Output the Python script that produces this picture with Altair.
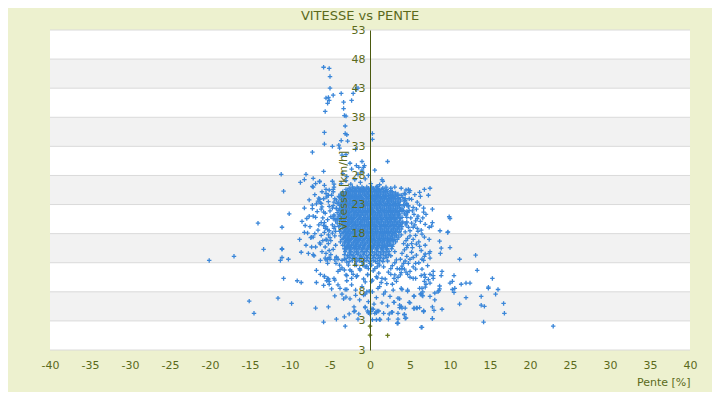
import altair as alt
import pandas as pd

TITLE = "VITESSE vs PENTE"
X_TITLE = "Pente [%]"
Y_TITLE = "Vitesse [km/h]"

x_ticks = list(range(-40, 41, 5))
y_ticks = [-2, 3, 8, 13, 18, 23, 28, 33, 38, 43, 48, 53]
y_tick_labels = ["3", "3", "8", "13", "18", "23", "28", "33", "38", "43", "48", "53"]
band_low = [3, 13, 23, 33, 43]
band_high = [8, 18, 28, 38, 48]

# upper tail and top of the cloud (pente %, vitesse km/h)
tail = [(-5.8,46.6),(-5.1,46.4),(-5.0,45.0),(-5.0,43.0),(-4.6,41.8),(-5.5,41.3),(-5.2,41.4),(-5.1,40.9),
        (-5.3,40.4),(-5.6,39.0),(-3.6,42.1),(-3.3,40.6),(-3.3,39.5),(-2.3,40.9),(-2.1,42.1),(-1.8,42.8),
        (-1.5,43.0),(-3.2,38.3),(-3.0,38.2),(-3.1,36.5),(-3.1,35.2),(-2.9,35.0),(-5.7,35.4),(-5.7,33.4),
        (-4.7,33.0),(-3.6,34.0),(-2.8,33.9),(-3.8,32.7),(-1.8,32.5),(-3.0,31.6),(-7.2,32.0),(0.3,35.2),
        (0.3,34.2),(2.2,30.4),(-5.8,28.7),(-3.9,33.2),(-3.5,31.5),(-2.5,30.1),(-1.7,29.7),(-1.0,30.4),
        (-0.7,29.7),(-0.8,29.4),(-1.4,29.4),(-2.3,29.1),(-1.0,28.9),
        (-3.6,26.6),(-3.0,27.1),(-2.4,26.5),(-1.9,27.3),(-1.2,26.8),(-0.6,27.4),(0.1,26.6),(0.9,26.1),
        (1.5,27.3),(1.6,27.0),(-2.9,27.8),(-1.5,28.2),(-0.2,28.0),(-3.4,28.3),(1.2,26.4),(2.0,26.0),
        (2.6,25.8),(3.1,26.0),(-1.0,28.6),(0.6,28.9),(4.8,25.6),(4.9,25.1),(6.2,25.1),(6.8,25.6),
        (7.3,24.6),(-4.5,26.5),(-4.6,25.6),(-5.1,25.5)]

left = [(-11.1,28.2),(-8.0,28.2),(-10.8,25.3),(-10.1,21.4),(-14.0,19.8),(-11.0,19.1),(-13.3,15.3),
        (-17.0,14.1),(-20.1,13.4),(-11.0,15.3),(-11.0,13.9),(-11.2,13.4),(-10.2,13.6),(-10.8,10.3),
        (-8.6,9.6),(-15.1,6.4),(-11.5,6.9),(-9.8,6.0),(-14.5,4.3),(-6.8,5.2),(-5.8,2.8),
        (-8.2,27.3),(-7.1,27.5),(-7.2,26.1),(-6.8,26.6),(-6.3,27.0),(-5.7,26.3),(-5.5,24.9),(-8.2,22.4),
        (-7.6,21.0),(-7.1,21.0),(-6.8,20.8),(-8.5,20.1),(-8.1,19.4),(-8.2,18.2),(-7.8,18.1),(-7.3,17.4),
        (-7.1,17.4),(-8.8,17.0),(-6.2,16.2),(-8.6,14.8),(-7.7,14.6),(-7.1,14.4),(-6.2,13.4),(-6.7,11.7),
        (-6.2,11.0),(-5.7,10.7),(-6.7,9.6),(-5.8,9.1),(-5.2,5.4),
        (-5.8,24.0),(-6.3,23.9),(-6.5,23.6),(-6.1,23.2),(-6.7,23.1),(-7.2,22.9),(-7.2,22.3),(-6.0,22.6),
        (-6.1,22.2),(-5.8,21.7),(-5.6,21.5),(-6.1,19.9),(-5.7,19.9),(-5.8,19.4),(-5.5,19.2),(-5.3,18.7),
        (-6.1,17.7),(-5.5,17.0),(-5.2,16.3),(-5.6,13.8),(-5.3,13.6),(-5.1,13.9),(-5.3,12.9),(-5.1,15.1),
        (-5.5,14.6),(-5.3,10.3),(-5.1,9.8),(-6.4,24.1),(-6.2,23.3),(-7.1,26.0),(-6.3,26.9),(-5.5,25.6),
        (-7.4,17.3),(-6.3,16.4),(-5.4,16.9),(-5.2,17.8),(-5.6,18.9),(-4.7,18.1),(-4.6,20.6),(-11.0,15.4),
        (-7.0,14.2),(-5.5,13.5),(-5.0,13.6),(-4.4,13.5),(-4.0,13.6),(-3.5,13.4),(-3.2,13.6),(-4.25,12.9),
        (-5.7,10.6),(-5.2,10.2),(-5.4,9.9),(-4.4,10.0),(-4.0,11.5),(-3.75,11.8),(-5.1,9.3),(-4.8,8.5),
        (-3.75,8.6),(-4.4,7.3),(-3.5,7.6),(-2.9,8.4),(-3.0,7.1),(-3.3,6.8),(-2.5,6.8),(-2.3,10.3),
        (-1.7,10.6),(-2.9,9.9),(-4.2,3.3),(-3.2,3.7),(-2.6,4.2),(-1.9,4.7),(-3.1,2.1),(-2.3,11.5),
        (-1.7,12.6),(-1.25,11.75),(-2.3,9.2),(-1.8,8.3),(-2.7,12.6),(-3.2,11.75),(-2.9,10.8),(-2.1,11.0),
        (-0.6,12.3),(-1.1,14.0),(-9.1,9.9),(-8.7,26.8),(-2.0,4.6),(-1.5,3.3),(-4.2,13.9),(-4.5,10.3),
        (-4.0,9.2),(-3.1,8.4),(-3.0,10.9),(-2.5,11.75),
        (-4.5,26.0),(-4.8,24.6),(-5.2,23.5),(-4.6,22.8),(-5.0,21.9),(-4.5,21.0),(-5.3,20.4),(-4.7,19.5),
        (-5.1,18.5),(-4.4,17.6),(-4.9,16.8),(-4.3,16.0),(-4.6,15.3),(-4.9,14.4),(-4.2,14.0),(-4.4,24.0),
        (-4.6,25.2),(-4.3,20.2),(-4.5,18.9),(-4.2,22.3),
        (-6.0,25.2),(-5.4,24.3),(-6.6,21.8),(-5.9,20.7),(-6.4,19.5),(-5.1,22.7),(-5.7,18.2),(-6.5,18.6),
        (-5.9,16.8),(-6.8,15.7),(-5.6,15.7),(-6.0,14.9),(-5.0,17.3),(-4.9,20.9),(-5.2,24.6),(-4.7,27.0),
        (-6.9,24.7),(-7.6,23.8),(-7.9,20.6),(-7.5,19.2),(-6.9,18.0),(-8.0,16.0),(-7.3,15.7)]

right = [(7.5,25.8),(10.0,20.6),(9.7,18.2),(10.0,15.6),(11.2,13.6),(13.2,14.3),(13.4,11.7),(15.3,10.3),
         (14.8,8.8),(14.8,8.6),(16.0,8.4),(15.7,7.6),(16.7,6.0),(16.8,4.3),(14.2,2.8),(22.9,2.1),
         (13.9,7.2),(14.3,5.5),(13.9,5.7),(12.0,7.0),(11.2,5.9),(11.4,9.3),(12.0,9.5),(12.5,9.5),
         (10.5,10.8),(10.3,9.8),(10.0,9.5),(10.6,8.6),(10.3,8.4),(10.5,7.9),(8.7,9.0),(8.7,8.5),(8.6,8.2),
         (8.5,8.0),(9.0,5.0),(7.8,3.4),(6.4,1.9),(3.5,2.6),(8.0,4.8),(6.7,4.6),
         (5.0,25.4),(4.3,24.9),(4.4,24.8),(6.3,24.4),(5.2,23.9),(4.4,23.7),(5.4,22.5),(5.8,22.2),(6.7,22.4),
         (6.7,21.7),(7.8,22.2),(5.9,20.6),(7.8,19.9),(7.7,19.3),(7.4,19.1),(5.2,19.8),(5.4,19.1),(5.9,18.9),
         (6.4,18.6),(6.0,18.4),(6.8,17.4),(7.4,17.0),(8.7,16.7),(8.9,15.5),(8.8,14.6),(7.5,14.9),(7.4,14.6),
         (7.5,13.8),(6.9,14.5),(6.8,14.1),(6.7,13.4),(6.2,15.8),(6.4,15.1),(5.7,17.7),(5.4,17.0),(5.2,16.3),
         (6.5,13.6),(5.7,12.9),(5.0,13.6),(4.8,12.9),(4.2,12.9),(3.7,11.9),(4.3,11.9),(5.7,11.9),(6.5,11.9),
         (5.0,11.5),(7.9,11.5),(9.0,11.5),(8.9,10.8),(7.9,10.8),(7.5,11.0),(6.8,11.0),(6.4,10.8),(6.9,10.5),
         (5.4,10.3),(5.7,10.3),(5.0,10.5),(3.5,10.5),(3.0,10.3),(3.3,9.8),(2.8,9.3),
         (3.9,8.6),(4.0,8.4),(4.7,8.3),(6.2,8.6),(6.5,8.6),(6.9,8.8),(6.8,9.8),(7.3,10.1),(7.9,10.3),
         (7.5,9.5),(7.0,9.3),(6.4,7.7),(6.5,7.4),(5.5,7.2),(4.9,6.2),(3.9,5.5),(4.0,5.2),(4.4,5.2),(6.2,5.3),
         (5.8,5.2),(5.5,5.2),(6.7,4.65),(4.3,4.1),(4.4,3.45),(3.5,4.3),(2.8,4.5),(3.0,6.2),(3.5,6.9),
         (3.7,5.3),(9.9,20.9),(9.75,18.3),(8.75,18.5),
         (4.6,23.0),(4.9,22.0),(4.5,21.2),(5.1,20.7),(4.6,20.0),(4.8,19.1),(4.4,18.3),(5.0,17.6),(4.5,16.8),
         (4.7,16.0),(4.3,15.2),(5.2,14.8),(4.6,14.1),(5.5,21.3),(6.0,21.0),(5.6,19.5),(6.3,20.1),(6.1,16.6),
         (5.3,15.6),(4.9,24.0),(3.9,25.8),(4.2,16.3),(4.0,14.6),(3.8,13.6),(4.0,12.0),
         (4.5,25.5),(5.6,24.7),(5.9,23.4),(4.8,22.6),(6.2,22.9),(5.3,21.9),(6.6,20.7),(7.0,21.3),(4.7,21.6),
         (5.7,20.2),(6.9,19.6),(4.5,19.5),(5.0,18.5),(6.5,17.9),(4.7,17.2),(5.8,16.2),(6.9,16.0),(4.6,15.6),
         (5.8,14.3),(4.4,13.3),(5.4,13.9),(6.1,13.0),(7.2,12.5),(5.4,12.3),(4.7,11.0),(3.9,11.3)]

low = [(1.7,7.6),(3.7,6.8),(4.7,8.1),(5.5,7.3),(6.3,7.6),(6.6,8.0),(6.6,7.3),(7.5,7.2),(8.1,7.8),(8.1,6.6),
       (2.2,5.6),(3.0,6.2),(3.7,5.7),(5.0,6.1),(5.5,5.1),(5.9,5.2),(6.7,4.75),(7.8,5.4),(0.9,4.7),(1.1,4.7),
       (0.8,4.4),(0.0,4.2),(-0.2,4.4),(-0.6,5.3),(0.25,5.1),(2.4,4.2),(2.7,4.5),(3.5,3.3),(4.3,4.1),(4.5,3.5),
       (3.4,2.6),(6.5,1.9),(7.8,3.4),(-1.4,4.2),(-0.4,8.0),(-0.1,8.1),(-0.6,7.6),(-0.6,5.4),(-0.3,4.7),
       (0.1,4.6),(0.6,4.3),(0.8,3.2),(0.3,3.2),(1.25,3.2),(-0.8,7.45),(-1.0,8.9),(-0.6,9.7),(-0.3,10.9),
       (0.3,10.0),(0.8,10.6),(1.5,10.3),(1.0,8.6),(0.3,8.0),(0.4,5.0),(1.2,3.3),(1.7,4.3),(2.3,3.3),
       (2.8,12.5),(3.4,12.0),(2.2,13.3),(3.1,13.0),(4.0,12.4),(2.6,11.0),(3.1,10.9),(1.9,10.2),(3.8,10.9),
       (4.5,11.4),(2.1,9.4),(1.2,8.9),(1.9,8.0),(2.5,7.2),(0.8,7.0),(-0.2,6.3),(-1.3,6.6),(-1.8,7.4),
       (-2.0,5.4),(1.5,6.1),(2.9,8.3),(0.5,5.9),(0.4,11.6),(1.1,11.2),(-0.3,11.0),(1.7,12.3),(0.9,10.4),
       (-0.8,10.2),(0.2,9.8),(1.4,9.6),(2.3,11.4),(-1.6,10.8),
       (-3.8,12.6),(-2.9,13.1),(-3.5,12.1),(3.3,13.5),(2.6,12.0),(1.0,12.9),(0.0,12.9),(-1.0,13.1),
       (-0.4,12.4),(0.9,12.3)]

# dense core of the cloud: one speed per row, the slopes read along it
core_speed = [26.0, 25.8, 25.6, 25.4, 25.2, 25.0, 24.8, 24.6, 24.4, 24.2, 24.0, 23.8, 23.6, 23.4,
              23.2, 23.0, 22.8, 22.6, 22.4, 22.2, 22.0, 21.8, 21.6, 21.4, 21.2, 21.0, 20.8, 20.6,
              20.4, 20.2, 20.0, 19.8, 19.6, 19.4, 19.2, 19.0, 18.8, 18.6, 18.4, 18.2, 18.0, 17.8,
              17.6, 17.4, 17.2, 17.0, 16.8, 16.6, 16.4, 16.2, 16.0, 15.8, 15.6, 15.4, 15.2, 14.9,
              14.7, 14.4, 14.2, 13.9, 13.7, 13.4, 13.2, 12.6, 12.0]
core_slopes = [
    [-2.2,-1.6,-1.0,-0.4,0.2,0.8],
    [-2.6,-2.0,-1.4,-0.8,-0.2,0.4,1.0,1.6],
    [-3.0,-2.4,-1.8,-1.2,-0.7,-0.2,0.4,0.9,1.5,2.1],
    [-2.8,-2.2,-1.7,-1.1,-0.6,0.0,0.6,1.2,1.9,2.6],
    [-3.4,-2.9,-2.4,-1.9,-1.4,-0.9,-0.4,0.1,0.6,1.1,1.7,2.2,2.8],
    [-3.1,-2.6,-2.0,-1.4,-0.9,-0.3,0.3,0.9,1.5,2.0,2.6,3.2],
    [-3.7,-3.2,-2.7,-2.2,-1.7,-1.2,-0.7,-0.2,0.3,0.8,1.3,1.9,2.5,3.0,3.5],
    [-3.5,-2.9,-2.4,-1.8,-1.2,-0.6,0.0,0.6,1.1,1.7,2.3,2.8,3.4,3.9],
    [-3.9,-3.4,-2.9,-2.4,-2.0,-1.5,-1.1,-0.5,0.0,0.5,1.0,1.6,2.1,2.7,3.2],
    [-3.8,-3.3,-2.7,-2.1,-1.6,-1.0,-0.4,0.2,0.8,1.3,1.9,2.5,3.0,3.6,4.1],
    [-3.4,-2.9,-2.4,-1.8,-1.3,-0.8,-0.2,0.3,0.7,1.3,1.8,2.4,2.9,3.5,4.4],
    [-4.2,-3.6,-3.1,-2.5,-1.9,-1.4,-0.8,-0.2,0.4,0.9,1.5,2.1,2.6,3.2,3.8],
    [-3.2,-2.6,-2.1,-1.6,-1.0,-0.5,0.1,0.6,1.1,1.6,2.2,2.7,3.2,3.8,4.3],
    [-4.5,-3.9,-3.4,-2.8,-2.2,-1.7,-1.1,-0.5,0.0,0.6,1.2,1.7,2.3,2.9,3.5],
    [-4.1,-3.5,-2.9,-2.4,-1.9,-1.4,-0.8,-0.3,0.2,0.8,1.3,1.9,2.4,3.0,3.5,4.6],
    [-3.7,-3.1,-2.6,-2.0,-1.5,-0.9,-0.3,0.3,0.9,1.4,2.0,2.6,3.1,3.7,4.2],
    [-3.8,-3.2,-2.7,-2.2,-1.6,-1.1,-0.6,0.0,0.5,1.0,1.6,2.1,2.6,3.2,3.7,4.3,4.8],
    [-3.4,-2.9,-2.3,-1.8,-1.2,-0.6,0.0,0.6,1.2,1.8,2.3,2.9,3.5],
    [-4.7,-4.2,-3.6,-3.0,-2.5,-2.0,-1.4,-0.9,-0.3,0.2,0.8,1.3,1.8,2.4,2.9,3.4,4.0],
    [-3.8,-3.2,-2.6,-2.1,-1.5,-0.9,-0.3,0.3,0.9,1.5,2.1,2.6,3.2,3.8],
    [-3.9,-3.3,-2.8,-2.2,-1.7,-1.2,-0.6,-0.1,0.4,1.0,1.5,2.0,2.6,3.1,3.7,4.2],
    [-3.5,-2.9,-2.3,-1.8,-1.2,-0.6,-0.1,0.5,1.1,1.7,2.3,2.8,3.4,4.0,4.6],
    [-4.1,-3.5,-3.0,-2.5,-1.9,-1.4,-0.9,-0.4,0.2,0.7,1.2,1.8,2.3,2.8,3.4],
    [-3.7,-3.1,-2.6,-2.0,-1.5,-0.9,-0.3,0.3,0.9,1.4,2.0,2.6,3.1,3.7,4.3],
    [-4.5,-3.8,-3.2,-2.7,-2.1,-1.6,-1.1,-0.6,0.0,0.5,1.0,1.5,2.1,2.6,3.1,3.6],
    [-3.9,-3.4,-2.8,-2.3,-1.7,-1.2,-0.6,0.0,0.6,1.2,1.8,2.4,2.9,3.5],
    [-3.4,-2.9,-2.4,-1.9,-1.3,-0.8,-0.3,0.3,0.8,1.3,1.9,2.4,2.9,3.5,4.0,4.6],
    [-4.1,-3.6,-3.1,-2.5,-2.0,-1.4,-0.8,-0.2,0.4,0.9,1.5,2.1,2.7,3.2,3.8],
    [-4.3,-3.7,-3.1,-2.6,-2.1,-1.5,-1.0,-0.5,0.1,0.6,1.1,1.6,2.2,2.7,3.2],
    [-3.8,-3.3,-2.7,-2.2,-1.6,-1.0,-0.4,0.2,0.8,1.4,2.0,2.5,3.1,3.7],
    [-3.4,-2.8,-2.3,-1.8,-1.2,-0.7,-0.2,0.3,0.9,1.4,1.9,2.5,3.0,3.5,4.1],
    [-4.1,-3.5,-3.0,-2.4,-1.9,-1.3,-0.7,-0.1,0.5,1.1,1.7,2.3,2.8,3.4,4.0,4.5],
    [-3.1,-2.6,-2.0,-1.5,-1.0,-0.4,0.1,0.6,1.2,1.7,2.2,2.8,3.3,3.8],
    [-3.8,-3.2,-2.7,-2.1,-1.6,-1.0,-0.4,0.2,0.8,1.4,2.0,2.6,3.1,3.7],
    [-4.4,-3.9,-3.3,-2.8,-2.3,-1.7,-1.2,-0.7,-0.1,0.4,0.9,1.5,2.0,2.5,3.1,3.6,4.0],
    [-3.4,-2.9,-2.3,-1.8,-1.2,-0.6,0.0,0.6,1.2,1.8,2.3,2.9,3.5],
    [-3.0,-2.5,-2.0,-1.4,-0.9,-0.3,0.2,0.7,1.3,1.8,2.3,2.9,3.4,3.9],
    [-3.7,-3.1,-2.6,-2.0,-1.5,-0.9,-0.3,0.3,0.9,1.5,2.1,2.7,3.2],
    [-4.3,-3.8,-3.2,-2.7,-2.2,-1.6,-1.1,-0.5,0.0,0.5,1.0,1.6,2.1,2.6,3.2,3.7],
    [-3.3,-2.8,-2.2,-1.7,-1.1,-0.5,0.1,0.7,1.3,1.9,2.4,3.0,3.6],
    [-3.5,-2.9,-2.4,-1.9,-1.3,-0.8,-0.2,0.3,0.8,1.4,1.9,2.4,3.0],
    [-3.0,-2.5,-1.9,-1.4,-0.8,-0.2,0.4,1.0,1.6,2.2,2.7,3.3,3.9],
    [-3.7,-3.1,-2.6,-2.0,-1.5,-1.0,-0.4,0.1,0.6,1.2,1.7,2.2,2.8,3.3],
    [-3.2,-2.7,-2.1,-1.6,-1.0,-0.4,0.2,0.8,1.4,1.9,2.5,3.1,3.6],
    [-3.3,-2.8,-2.3,-1.7,-1.2,-0.6,-0.1,0.4,1.0,1.5,2.0,2.6],
    [-3.5,-2.9,-2.4,-1.8,-1.3,-0.7,-0.1,0.5,1.1,1.7,2.3,2.9,3.4],
    [-3.0,-2.5,-1.9,-1.4,-0.9,-0.3,0.2,0.7,1.3,1.8,2.4,2.9],
    [-3.7,-3.1,-2.6,-2.0,-1.5,-0.9,-0.3,0.3,0.9,1.5,2.1,2.6,3.2],
    [-3.2,-2.7,-2.1,-1.6,-1.0,-0.5,0.0,0.6,1.1,1.6,2.2],
    [-2.8,-2.3,-1.7,-1.2,-0.6,0.0,0.6,1.2,1.8,2.4,2.9],
    [-3.4,-2.8,-2.3,-1.8,-1.2,-0.7,-0.1,0.4,0.9,1.5,2.0,2.5],
    [-3.0,-2.5,-1.9,-1.4,-0.8,-0.2,0.4,1.0,1.6,2.2,2.8],
    [-2.9,-2.4,-1.9,-1.3,-0.8,-0.2,0.3,0.8,1.4,1.9],
    [-3.2,-2.6,-2.0,-1.5,-0.9,-0.3,0.3,0.9,1.5,2.1,2.7],
    [-3.0,-2.4,-1.7,-1.1,-0.5,0.1,0.8,1.5,2.1],
    [-3.1,-2.4,-1.7,-1.0,-0.4,0.3,1.0,1.7,2.4,3.1],
    [-2.6,-2.0,-1.4,-0.7,0.0,0.6,1.3,2.0],
    [-3.2,-2.4,-1.6,-0.8,0.0,0.8,1.5,2.3],
    [-2.8,-2.1,-1.2,-0.4,0.4,1.1,1.9,2.6],
    [-2.6,-1.9,-1.1,-0.3,0.5,1.3,2.1],
    [-3.0,-2.2,-1.5,-0.7,0.1,0.9,1.7],
    [-2.2,-1.3,-0.4,0.4,1.2],
    [-2.6,-1.7,-0.8,0.0,0.7,1.6],
    [-1.9,-0.9,0.2,1.2],
    [-1.3,-0.2,0.6],
]

# a few points of a second (olive) series near the bottom
olive = [(2.2,0.5),(0.0,2.1),(0.0,0.55)]

BG = "#edf1cf"
TEXT = "#5b6a1b"
AXIS = "#4b5a10"
BLUE = "#3b87d9"
OLIVE = "#6b7a1e"
BAND = "#f2f2f2"
GRID = "#dadada"
FONT = "DejaVu Sans"

rows = []
for group in (tail, left, right, low):
    for p, v in group:
        rows.append({"pente": p, "vitesse": v, "serie": "a"})
for v, slopes in zip(core_speed, core_slopes):
    for p in slopes:
        rows.append({"pente": p, "vitesse": v, "serie": "a"})
for p, v in olive:
    rows.append({"pente": p, "vitesse": v, "serie": "b"})
pts = pd.DataFrame(rows)

bands = pd.DataFrame({"pente": [x_ticks[0]] * len(band_low), "pente2": [x_ticks[-1]] * len(band_low),
                      "vitesse": band_low, "vitesse2": band_high})
grid = pd.DataFrame({"pente": [x_ticks[0]] * len(y_ticks), "pente2": [x_ticks[-1]] * len(y_ticks),
                     "vitesse": y_ticks})

xs = alt.Scale(domain=[x_ticks[0], x_ticks[-1]], nice=False, zero=False)
ys = alt.Scale(domain=[y_ticks[0], y_ticks[-1]], nice=False, zero=False)

y_label_expr = f"datum.value == {y_ticks[0]} ? '{y_tick_labels[0]}' : datum.label"
x_label_expr = "'' + datum.value"

W, H = 640, 320

x_axis = alt.Axis(values=x_ticks, labelExpr=x_label_expr, grid=False, ticks=False, domain=False,
                  labelFlush=False, labelPadding=9, labelFontSize=11, labelColor=TEXT, labelFont=FONT,
                  title=X_TITLE, titleAnchor="end", titleFontWeight="normal", titleFontSize=11,
                  titleColor=TEXT, titleFont=FONT, titlePadding=6)
y_axis = alt.Axis(values=y_ticks, labelExpr=y_label_expr, grid=False, ticks=False, domain=True,
                  labelFlush=False, domainColor=AXIS, domainWidth=1, offset=-W / 2, labelPadding=5,
                  labelFontSize=11, labelColor=TEXT, labelFont=FONT,
                  title=Y_TITLE, titleFontWeight="normal", titleFontSize=11, titleColor=TEXT,
                  titleFont=FONT, titlePadding=3, zindex=1)

band_layer = alt.Chart(bands).mark_rect(color=BAND).encode(
    x=alt.X("pente:Q", scale=xs, axis=x_axis), x2="pente2:Q",
    y=alt.Y("vitesse:Q", scale=ys, axis=y_axis), y2="vitesse2:Q")

grid_layer = alt.Chart(grid).mark_rule(color=GRID, strokeWidth=1).encode(
    x=alt.X("pente:Q", scale=xs, axis=x_axis), x2="pente2:Q",
    y=alt.Y("vitesse:Q", scale=ys, axis=y_axis))

point_layer = alt.Chart(pts).mark_point(
    shape="M-1,0L1,0M0,-1L0,1", filled=False, strokeWidth=1.3, size=20, opacity=1
).encode(
    x=alt.X("pente:Q", scale=xs, axis=x_axis),
    y=alt.Y("vitesse:Q", scale=ys, axis=y_axis),
    color=alt.Color("serie:N", scale=alt.Scale(domain=["a", "b"], range=[BLUE, OLIVE]), legend=None),
)

chart = alt.layer(band_layer, grid_layer, point_layer).properties(
    width=W, height=H,
    title=alt.TitleParams(TITLE, fontSize=13, font=FONT, fontWeight="normal", color=TEXT,
                          anchor="middle", dx=-10, offset=1),
    background=BG,
    padding={"left": 42, "top": 22, "right": 22, "bottom": 42},
    autosize=alt.AutoSizeParams(type="none"),
).configure_view(stroke=None, fill="white")

chart.save("out.html", embed_options={"renderer": "svg", "actions": False})
